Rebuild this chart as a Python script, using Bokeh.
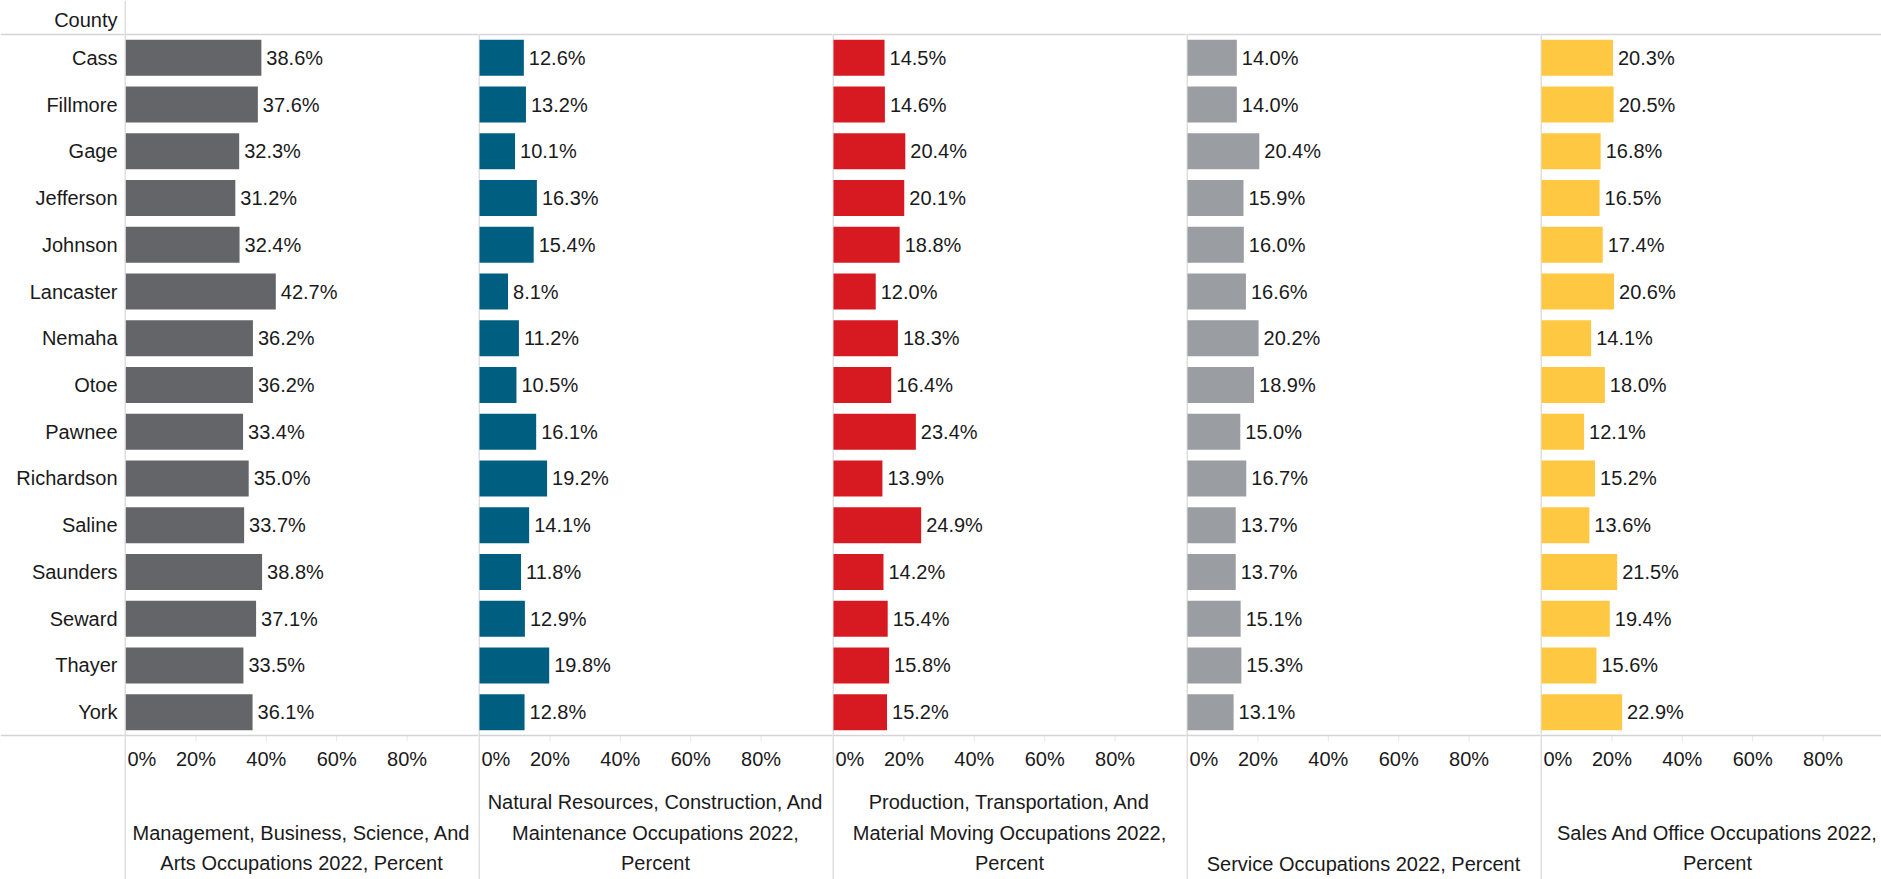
from bokeh.plotting import figure
from bokeh.layouts import row
from bokeh.models import Range1d, Span, ColumnDataSource
from bokeh.core.properties import value
from bokeh.embed import file_html
from bokeh.resources import INLINE

counties = ["Cass", "Fillmore", "Gage", "Jefferson", "Johnson", "Lancaster", "Nemaha",
            "Otoe", "Pawnee", "Richardson", "Saline", "Saunders", "Seward", "Thayer", "York"]
mgmt = [38.6, 37.6, 32.3, 31.2, 32.4, 42.7, 36.2, 36.2, 33.4, 35.0, 33.7, 38.8, 37.1, 33.5, 36.1]
natres = [12.6, 13.2, 10.1, 16.3, 15.4, 8.1, 11.2, 10.5, 16.1, 19.2, 14.1, 11.8, 12.9, 19.8, 12.8]
prod = [14.5, 14.6, 20.4, 20.1, 18.8, 12.0, 18.3, 16.4, 23.4, 13.9, 24.9, 14.2, 15.4, 15.8, 15.2]
service = [14.0, 14.0, 20.4, 15.9, 16.0, 16.6, 20.2, 18.9, 15.0, 16.7, 13.7, 13.7, 15.1, 15.3, 13.1]
sales = [20.3, 20.5, 16.8, 16.5, 17.4, 20.6, 14.1, 18.0, 12.1, 15.2, 13.6, 21.5, 19.4, 15.6, 22.9]

titles = [
    "Management, Business, Science, And\nArts Occupations 2022, Percent",
    "Natural Resources, Construction, And\nMaintenance Occupations 2022,\nPercent",
    "Production, Transportation, And\nMaterial Moving Occupations 2022,\nPercent",
    "Service Occupations 2022, Percent",
    "Sales And Office Occupations 2022,\nPercent",
]
series = [mgmt, natres, prod, service, sales]
colors = ["#646569", "#005F80", "#D71A21", "#9A9DA2", "#FFC843"]
tick_values = [0, 20, 40, 60, 80]
tick_labels = ["0%", "20%", "40%", "60%", "80%"]

FONT = value("Liberation Sans")
FS = "20px"
TXT = "#1a1a1a"
LINE = "#d4d4d4"

TOTAL_W = 1881
H = 879
TOP = 34
ROW_PX = 701 / len(counties)
PX_PER = 3.52
LEFT_W = 124
PANEL_W = [354, 354, 354, 354, TOTAL_W - LEFT_W - 4 * 354]


def y_of(px):
    return -0.5 + (px - TOP) / ROW_PX


def yrange():
    return Range1d(start=y_of(H), end=y_of(0))


idx = list(range(len(counties)))
bottom_y = len(counties) - 0.5
BOTTOM_PX = TOP + 701


def base_fig(w, xr):
    p = figure(width=w, height=H, x_range=xr, y_range=yrange(), output_backend="svg",
               toolbar_location=None, min_border=0, outline_line_color=None,
               x_axis_location=None, y_axis_location=None,
               background_fill_color="white", border_fill_color="white")
    p.grid.visible = False
    p.add_layout(Span(location=-0.5, dimension="width", line_color=LINE, line_width=1.5))
    p.add_layout(Span(location=bottom_y, dimension="width", line_color=LINE, line_width=1.5))
    return p


figs = []
# Label column
f0 = base_fig(LEFT_W, Range1d(0, LEFT_W))
f0.text(x=[LEFT_W - 7] * len(counties), y=idx, text=counties, text_align="right",
        text_baseline="middle", text_font=FONT, text_font_size=FS, text_color=TXT)
f0.text(x=[LEFT_W - 7], y=[y_of(19)], text=["County"], text_align="right",
        text_baseline="middle", text_font=FONT, text_font_size=FS, text_color=TXT)
figs.append(f0)

for k, (vals, col, title, w) in enumerate(zip(series, colors, titles, PANEL_W)):
    x0 = -1.0 / PX_PER
    xr = Range1d(x0, x0 + w / PX_PER)
    p = base_fig(w, xr)
    div_x = -0.5 / PX_PER
    if k == 0:
        p.add_layout(Span(location=div_x, dimension="height", line_color=LINE, line_width=1.5))
    else:
        p.segment(x0=[div_x], x1=[div_x], y0=[-0.5], y1=[y_of(H)], line_color=LINE, line_width=1.5)
    src = ColumnDataSource(dict(y=idx, v=vals, lab=[f"{v:.1f}%" for v in vals]))
    p.hbar(y="y", left=0, right="v", height=36 / ROW_PX, source=src, fill_color=col,
           line_color=None)
    p.text(x="v", y="y", text="lab", source=src, x_offset=5, text_align="left",
           text_baseline="middle", text_font=FONT, text_font_size=FS, text_color=TXT)
    # tick marks
    p.segment(x0=tick_values[1:], x1=tick_values[1:], y0=[bottom_y] * 4,
              y1=[y_of(BOTTOM_PX + 6)] * 4, line_color="#e6e6e6", line_width=1)
    # tick labels
    p.text(x=tick_values[:1], y=[y_of(758)], text=tick_labels[:1], x_offset=2,
           text_align="left", text_baseline="middle", text_font=FONT,
           text_font_size=FS, text_color=TXT)
    p.text(x=tick_values[1:], y=[y_of(758)] * 4, text=tick_labels[1:],
           text_align="center", text_baseline="middle", text_font=FONT,
           text_font_size=FS, text_color=TXT)
    # title
    cx_px = min(177, w - 163)
    p.text(x=[x0 + cx_px / PX_PER], y=[y_of(874)], text=[title], text_align="center",
           text_baseline="bottom", text_line_height=1.4, text_font=FONT,
           text_font_size=FS, text_color=TXT)
    figs.append(p)

layout = row(*figs, spacing=0)
open("out.html", "w").write(file_html(layout, INLINE))
